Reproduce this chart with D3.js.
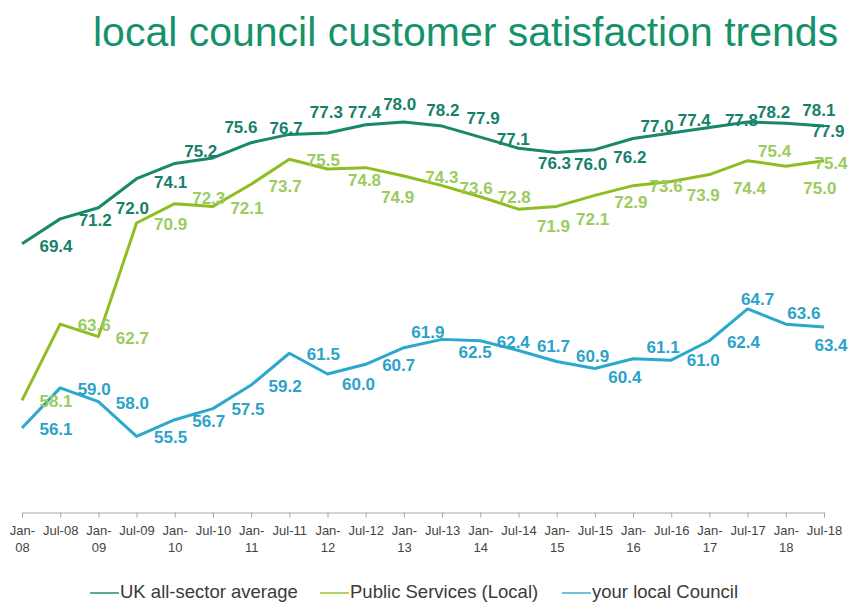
<!DOCTYPE html>
<html>
<head>
<meta charset="utf-8">
<script src="https://d3js.org/d3.v7.min.js"></script>
<style>
  body { margin: 0; background: #fff; }
  svg { display: block; font-family: "Liberation Sans", Arial, sans-serif; }
</style>
</head>
<body>
<svg width="851" height="603"></svg>
<script>

// Categories (half-yearly waves)
var periods = ["Jan-08","Jul-08","Jan-09","Jul-09","Jan-10","Jul-10","Jan-11","Jul-11",
  "Jan-12","Jul-12","Jan-13","Jul-13","Jan-14","Jul-14","Jan-15","Jul-15",
  "Jan-16","Jul-16","Jan-17","Jul-17","Jan-18","Jul-18"];

// Series values
var ukAverage = [69.4,71.2,72.0,74.1,75.2,75.6,76.7,77.3,77.4,78.0,78.2,77.9,
  77.1,76.3,76.0,76.2,77.0,77.4,77.8,78.2,78.1,77.9];
var publicLocal = [58.1,63.6,62.7,70.9,72.3,72.1,73.7,75.5,74.8,74.9,74.3,73.6,
  72.8,71.9,72.1,72.9,73.6,73.9,74.4,75.4,75.0,75.4];
var yourCouncil = [56.1,59.0,58.0,55.5,56.7,57.5,59.2,61.5,60.0,60.7,61.9,62.5,
  62.4,61.7,60.9,60.4,61.1,61.0,62.4,64.7,63.6,63.4];

var seriesNames = ["UK all-sector average", "Public Services (Local)", "your local Council"];

// label nudges (px from the point), to follow the hand-placed labels of the original
var ukLabelDx = [34,35,34,34,26,28,35,37,37,34,39,41,33,36,34,35,24,23,32,26,33,4];
var ukLabelDy = [2,1,0,3,-12,-31,-15,-22,-21,-21,-12,-8,2,15,12,7,-13,-13,-7,-10,-13,5];
var pubLabelDx = [34,34,34,34,34,34,34,34,37,32,38,34,34,35,36,36,33,32,40,27,34,7];
var pubLabelDy = [1,1,1,1,-6,2,2,1,11,29,1,2,0,17,13,7,0,14,13,-10,22,2];
var cncLabelDx = [34,34,34,34,34,35,34,34,31,33,24,33,33,35,36,30,30,32,34,10,18,7];
var cncLabelDy = [1,1,1,1,1,0,1,1,10,1,-16,13,1,-4,-6,9,-12,0,1,-10,-11,18];

var series = [
  {name: seriesNames[0], values: ukAverage, line: "#18876a", label: "#17806a", dx: ukLabelDx, dy: ukLabelDy},
  {name: seriesNames[1], values: publicLocal, line: "#8fbd22", label: "#9ccb5e", dx: pubLabelDx, dy: pubLabelDy},
  {name: seriesNames[2], values: yourCouncil, line: "#2aa9cc", label: "#2ba3c8", dx: cncLabelDx, dy: cncLabelDy}
];

var svg = d3.select("svg");

// Scales
var x = d3.scalePoint()
    .domain(periods)
    .range([22, 824]);

var y = d3.scaleLinear()
    .domain([50, 80])
    .range([512.5, 97]);

// Title
svg.append("text")
    .attr("x", 93)
    .attr("y", 46)
    .style("font-size", "41px")
    .style("fill", "#16926b")
    .text("local council customer satisfaction trends");

// X axis
var xAxis = svg.append("g")
    .attr("transform", "translate(0,512.5)")
    .call(d3.axisBottom(x).tickSizeInner(5).tickSizeOuter(5).tickPadding(8));

xAxis.select(".domain").attr("stroke", "#a6a6a6");
xAxis.selectAll(".tick line").attr("stroke", "#a6a6a6");

// wrap the "Jan-" labels onto two lines like the original
xAxis.selectAll(".tick text")
    .style("font-size", "13px")
    .style("fill", "#444")
    .attr("font-family", null)
    .each(function(d) {
      var t = d3.select(this);
      if (d.indexOf("Jan") === 0) {
        var parts = d.split("-");
        t.text(null);
        t.append("tspan").attr("x", 0).attr("dy", "0.71em").text(parts[0] + "-");
        t.append("tspan").attr("x", 0).attr("dy", "1.35em").text(parts[1]);
        t.attr("dy", null);
      }
    });

// Lines
var line = d3.line()
    .x(function(d, i) { return x(periods[i]); })
    .y(function(d) { return y(d); });

svg.append("g")
  .selectAll("path")
  .data(series)
  .enter()
  .append("path")
    .attr("d", function(s) { return line(s.values); })
    .attr("fill", "none")
    .attr("stroke", function(s) { return s.line; })
    .attr("stroke-width", 3)
    .attr("stroke-linejoin", "round");

// Data labels
series.forEach(function(s) {
  svg.append("g")
    .selectAll("text")
    .data(s.values)
    .enter()
    .append("text")
      .attr("x", function(d, i) { return x(periods[i]) + s.dx[i]; })
      .attr("y", function(d, i) { return y(d) + s.dy[i] + 6; })
      .attr("text-anchor", "middle")
      .style("font-size", "17px")
      .style("font-weight", "bold")
      .style("fill", s.label)
      .text(function(d) { return d.toFixed(1); });
});

// Legend
var legendX = [90, 320, 562];
var legend = svg.append("g")
  .selectAll("g")
  .data(series)
  .enter()
  .append("g")
    .attr("transform", function(s, i) { return "translate(" + legendX[i] + ",593)"; });

legend.append("line")
    .attr("x1", 0).attr("x2", 29)
    .attr("stroke", function(s) { return s.line; })
    .attr("stroke-opacity", 0.7)
    .attr("stroke-width", 2);

legend.append("text")
    .attr("x", 30)
    .attr("y", 5)
    .style("font-size", "18.5px")
    .style("fill", "#3a3a3a")
    .text(function(s) { return s.name; });

</script>
</body>
</html>
